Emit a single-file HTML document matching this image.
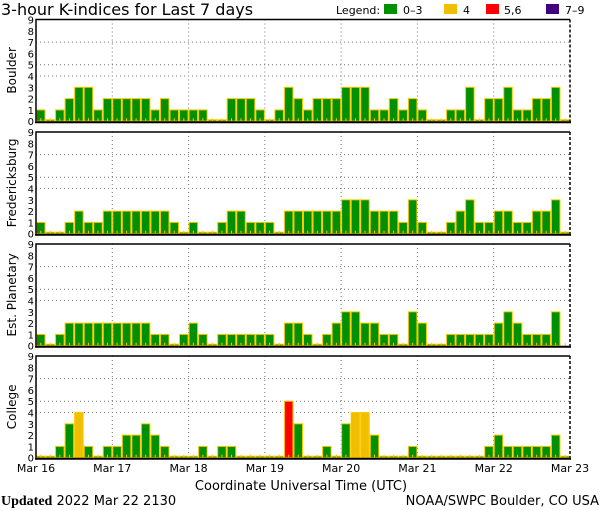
<!DOCTYPE html>
<html><head><meta charset="utf-8"><style>
html,body{margin:0;padding:0;background:#fff;}
svg{display:block;font-family:"DejaVu Sans","Liberation Sans",sans-serif;}
</style></head><body>
<svg id="chart" width="600" height="510" viewBox="0 0 600 510" xmlns="http://www.w3.org/2000/svg">
<text x="1" y="15" font-size="16" fill="#000">3-hour K-indices for Last 7 days</text>
<g font-size="11" fill="#000">
<text x="336" y="14">Legend:</text>
<rect x="384" y="4" width="13" height="10" fill="#009000"/>
<text x="403" y="14">0–3</text>
<rect x="444" y="4" width="13" height="10" fill="#f0c000"/>
<text x="463" y="14">4</text>
<rect x="486" y="4" width="13" height="10" fill="#ff0000"/>
<text x="504" y="14">5,6</text>
<rect x="546" y="4" width="13" height="10" fill="#400080"/>
<text x="565" y="14">7–9</text>
</g>
<g id="panels"></g>
<g id="xlabels" font-size="11" fill="#000"></g>
<text x="301" y="490" font-size="13" text-anchor="middle" fill="#000">Coordinate Universal Time (UTC)</text>
<text x="1" y="505" font-size="13" fill="#000"><tspan font-family="Liberation Serif,serif" font-weight="bold" font-size="14">Updated</tspan> 2022 Mar 22 2130</text>
<text x="599" y="505" font-size="13" text-anchor="end" fill="#000">NOAA/SWPC Boulder, CO USA</text>
</svg>
<script>
const stations = ["Boulder","Fredericksburg","Est. Planetary","College"];
const boulder = [1,0,1,2,3,3,1,2, 2,2,2,2,1,2,1,1, 1,1,0,0,2,2,2,1, 0,1,3,2,1,2,2,2, 3,3,3,1,1,2,1,2, 1,0,0,1,1,3,0,2, 2,3,1,1,2,2,3,0];
const fredericksburg = [1,0,0,1,2,1,1,2, 2,2,2,2,2,2,1,0, 1,0,0,1,2,2,1,1, 1,0,2,2,2,2,2,2, 3,3,3,2,2,2,1,3, 1,0,0,1,2,3,1,1, 2,2,1,1,2,2,3,0];
const planetary = [1,0,1,2,2,2,2,2, 2,2,2,2,1,1,0,1, 2,1,0,1,1,1,1,1, 1,0,2,2,1,0,1,2, 3,3,2,2,1,1,0,3, 2,0,0,1,1,1,1,1, 2,3,2,1,1,1,3,null];
const college = [0,0,1,3,4,1,0,1, 1,2,2,3,2,1,0,0, 0,1,0,1,1,0,0,0, 0,0,5,3,0,0,1,0, 3,4,4,2,0,0,0,1, 0,0,0,0,0,0,0,1, 2,1,1,1,1,1,2,0];
const dayLabels = ["Mar 16","Mar 17","Mar 18","Mar 19","Mar 20","Mar 21","Mar 22","Mar 23"];
const yTicks = [0,1,2,3,4,5,6,7,8,9];
const gridLevels = [4,5,7];

const series = [boulder, fredericksburg, planetary, college];
const NS = "http://www.w3.org/2000/svg";
const L = 36, R = 570;
const tops = [19.5, 132, 244, 356];
const H = 101.7;
const nBars = 56;
const bw = (R - L) / nBars;
function xScale(i){ return L + i * bw; }
function dayX(d){ return L + d * (R - L) / 7; }
function mk(tag, attrs, parent){ const e = document.createElementNS(NS, tag); for (const k in attrs) e.setAttribute(k, attrs[k]); parent.appendChild(e); return e; }
function color(v){ return v >= 7 ? "#400080" : v >= 5 ? "#ff0000" : v >= 4 ? "#f0c000" : "#009000"; }
const panels = document.getElementById("panels");
series.forEach((data, p) => {
  const top = tops[p], base = top + H;
  const y = v => base - v * H / 9;
  const g = mk("g", {}, panels);
  
  
  gridLevels.forEach(l => {
    const ln = mk("line", {x1: L, x2: R, y1: y(l), y2: y(l), stroke: "#777", "stroke-width": 1, "stroke-dasharray": "1,3"}, g);
    
    
  });
  for (let d = 1; d < 7; d++) {
    const ln = mk("line", {x1: dayX(d), x2: dayX(d), y1: top, y2: base, stroke: "#777", "stroke-width": 1, "stroke-dasharray": "1,3"}, g);
    
    
  }
  data.forEach((v, i) => {
    const x = xScale(i);
    if (v !== null) {
      const h = Math.max(v * H / 9, 1.5);
      const r = mk("rect", {x: x + 0.5, y: base - h, width: bw - 1, height: h, fill: color(v), stroke: "#ffc800", "stroke-width": 1}, g);
      
      
    }
    const t = mk("line", {x1: x + bw / 2, x2: x + bw / 2, y1: base - 3, y2: base, stroke: "#ffc800", "stroke-width": 1}, g);
    
    
  });
  const f1 = mk("path", {d: `M${L},${base} L${L},${top} L${R},${top}`, fill: "none", stroke: "#000", "stroke-width": 1.5}, g);
  
  
  const f2 = mk("line", {x1: R, x2: R, y1: top, y2: base, stroke: "#000", "stroke-width": 1.5, "stroke-dasharray": "3,2"}, g);
  
  
  const f3 = mk("line", {x1: L - 1, x2: R + 1, y1: base + 1, y2: base + 1, stroke: "#000", "stroke-width": 2}, g);
  
  
  yTicks.forEach(t => {
    const tx = mk("text", {x: 34, y: y(t) + 4, "font-size": 10, "text-anchor": "end", fill: "#000"}, g);
    tx.textContent = t;
    
    
  });
  const cy = top + H / 2;
  const at = mk("text", {x: 0, y: 0, "font-size": 12, "text-anchor": "middle", fill: "#000", transform: `translate(16,${cy}) rotate(-90)`}, g);
  at.textContent = stations[p];
  
  
});
const xl = document.getElementById("xlabels");
dayLabels.forEach((lab, d) => {
  const t = mk("text", {x: dayX(d), y: 472, "text-anchor": "middle"}, xl);
  t.textContent = lab;
  
  
});
</script>
</body></html>
